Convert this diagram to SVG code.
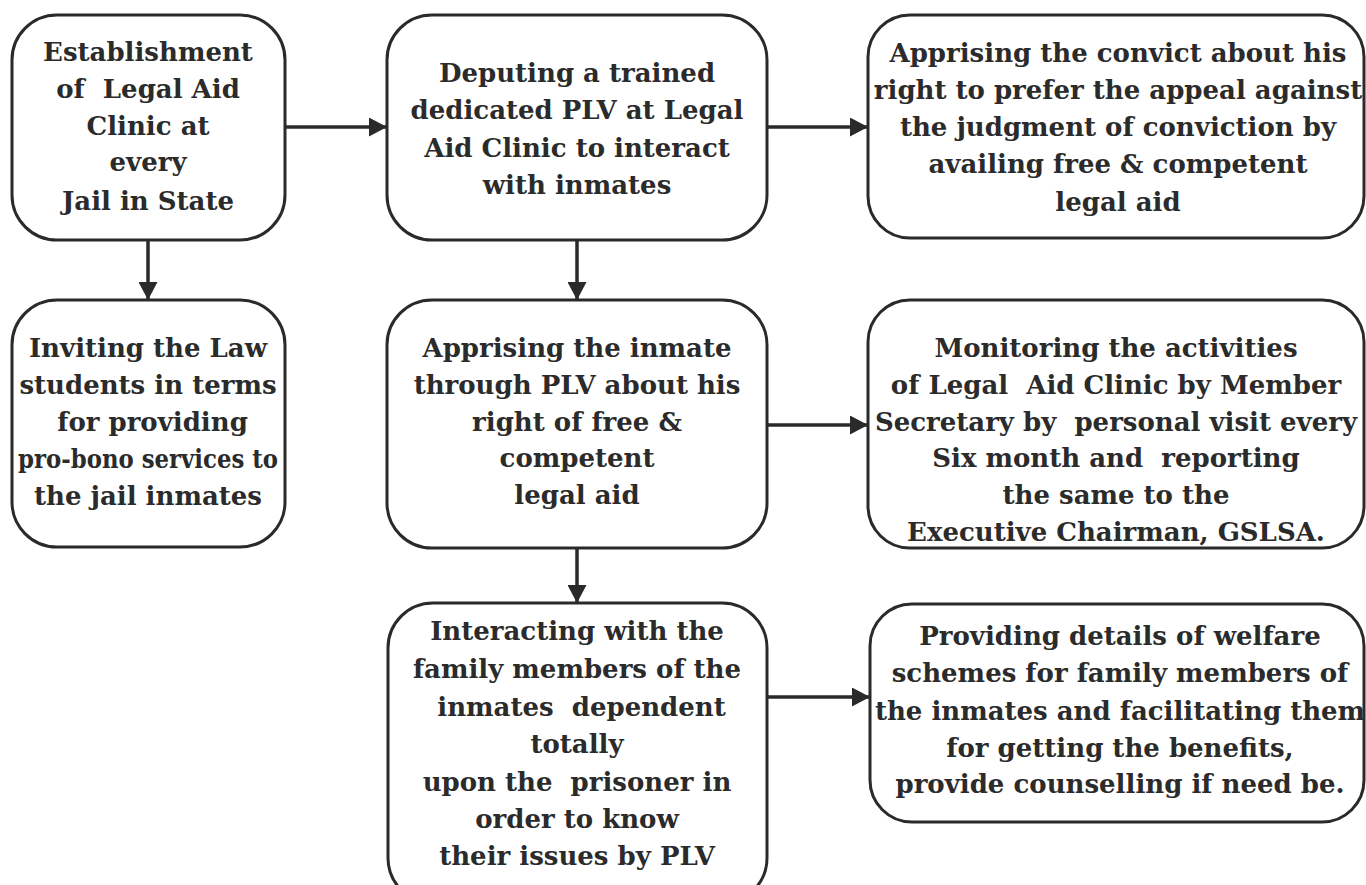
<svg xmlns="http://www.w3.org/2000/svg" width="1366" height="885" viewBox="0 0 1366 885">
<defs>
<marker id="ah" viewBox="0 0 18 19" refX="18" refY="9.5" markerWidth="18" markerHeight="19" markerUnits="userSpaceOnUse" orient="auto">
<path d="M0,0 L18,9.5 L0,19 Z" fill="#2a2a2a"/>
</marker>
<style>
.box{fill:#fff;stroke:#2a2a2a;stroke-width:3}
.t{font-family:"DejaVu Serif","Liberation Serif",serif;font-weight:bold;font-size:26px;fill:#2b2b2b;text-anchor:middle;white-space:pre}
.c{stroke:#2a2a2a;stroke-width:3.5;fill:none;marker-end:url(#ah)}
</style>
</defs>
<rect width="1366" height="885" fill="#fff"/>
<g id="connectors">
<line class="c" x1="285" y1="127" x2="387" y2="127"/>
<line class="c" x1="767" y1="127" x2="868" y2="127"/>
<line class="c" x1="148" y1="240" x2="148" y2="300"/>
<line class="c" x1="577" y1="240" x2="577" y2="300"/>
<line class="c" x1="767" y1="425" x2="868" y2="425"/>
<line class="c" x1="577" y1="548" x2="577" y2="603"/>
<line class="c" x1="767" y1="697" x2="870" y2="697"/>
</g>
<g id="n1">
<rect class="box" x="12" y="15" width="273" height="225" rx="45"/>
<text class="t" xml:space="preserve"><tspan x="148" y="61">Establishment</tspan><tspan x="148" y="98">of  Legal Aid</tspan><tspan x="148" y="135">Clinic at</tspan><tspan x="148" y="171">every</tspan><tspan x="148" y="210">Jail in State</tspan></text>
</g>
<g id="n2">
<rect class="box" x="387" y="15" width="380" height="225" rx="45"/>
<text class="t"><tspan x="577" y="82">Deputing a trained</tspan><tspan x="577" y="119">dedicated PLV at Legal</tspan><tspan x="577" y="157">Aid Clinic to interact</tspan><tspan x="577" y="194">with inmates</tspan></text>
</g>
<g id="n3">
<rect class="box" x="868" y="15" width="496" height="223" rx="42"/>
<text class="t"><tspan x="1118" y="62">Apprising the convict about his</tspan><tspan x="1118" y="99">right to prefer the appeal against</tspan><tspan x="1118" y="136">the judgment of conviction by</tspan><tspan x="1118" y="173">availing free &amp; competent</tspan><tspan x="1118" y="211">legal aid</tspan></text>
</g>
<g id="n4">
<rect class="box" x="12" y="300" width="273" height="247" rx="45"/>
<text class="t" xml:space="preserve"><tspan x="148" y="357">Inviting the Law</tspan><tspan x="148" y="394">students in terms</tspan><tspan x="148" y="431"> for providing</tspan><tspan x="148" y="468" textLength="260" lengthAdjust="spacingAndGlyphs">pro-bono services to</tspan><tspan x="148" y="505">the jail inmates</tspan></text>
</g>
<g id="n5">
<rect class="box" x="387" y="300" width="380" height="248" rx="45"/>
<text class="t"><tspan x="577" y="357">Apprising the inmate</tspan><tspan x="577" y="394">through PLV about his</tspan><tspan x="577" y="431">right of free &amp;</tspan><tspan x="577" y="467">competent</tspan><tspan x="577" y="504">legal aid</tspan></text>
</g>
<g id="n6">
<rect class="box" x="868" y="300" width="496" height="248" rx="42"/>
<text class="t" xml:space="preserve"><tspan x="1116" y="357">Monitoring the activities</tspan><tspan x="1116" y="394">of Legal  Aid Clinic by Member</tspan><tspan x="1116" y="431">Secretary by  personal visit every</tspan><tspan x="1116" y="467">Six month and  reporting</tspan><tspan x="1116" y="504">the same to the</tspan><tspan x="1116" y="541">Executive Chairman, GSLSA.</tspan></text>
</g>
<g id="n7">
<rect class="box" x="388" y="603" width="379" height="300" rx="45"/>
<text class="t" xml:space="preserve"><tspan x="577" y="640">Interacting with the</tspan><tspan x="577" y="678">family members of the</tspan><tspan x="577" y="716"> inmates  dependent</tspan><tspan x="577" y="753">totally</tspan><tspan x="577" y="791">upon the  prisoner in</tspan><tspan x="577" y="828">order to know</tspan><tspan x="577" y="865">their issues by PLV</tspan></text>
</g>
<g id="n8">
<rect class="box" x="870" y="604" width="494" height="218" rx="42"/>
<text class="t"><tspan x="1120" y="645">Providing details of welfare</tspan><tspan x="1120" y="682">schemes for family members of</tspan><tspan x="1120" y="720">the inmates and facilitating them</tspan><tspan x="1120" y="757">for getting the benefits,</tspan><tspan x="1120" y="793">provide counselling if need be.</tspan></text>
</g>
</svg>
